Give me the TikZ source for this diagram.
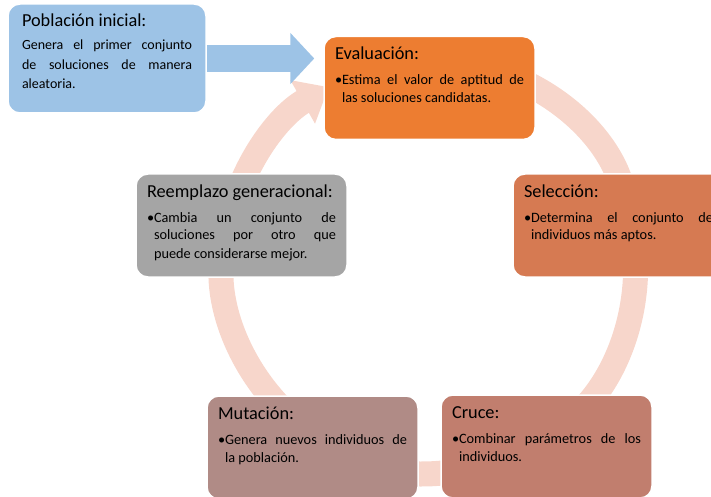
\documentclass[tikz,border=0pt]{standalone}
\usepackage{fontspec}
\setmainfont{Carlito}
\usetikzlibrary{arrows.meta}

\definecolor{popblue}{HTML}{9DC3E6}
\definecolor{evalorange}{HTML}{ED7D31}
\definecolor{selbrown}{HTML}{D67A52}
\definecolor{crucebrown}{HTML}{C17E6E}
\definecolor{mutbrown}{HTML}{B08B86}
\definecolor{reemgray}{HTML}{A5A5A5}
\definecolor{ringpink}{HTML}{F7D6CB}

% title + bulleted text inside a stage box
\newcommand{\stagetext}[2]{%
  \parbox[t][83pt][t]{189pt}{%
    \fontsize{18.3}{22}\selectfont\rule{0pt}{13pt}#1\par
    \vspace{7pt}%
    \fontsize{14.3}{18}\selectfont
    \hangindent=7pt\hangafter=1\noindent\makebox[7pt][l]{\textbullet}#2}}

\tikzset{
  stagebox/.style={draw=white, line width=1.5pt, rounded corners=12pt,
    inner xsep=11pt, inner ysep=10pt, text=black},
  ringarrow/.style={ringpink, line width=25pt, -{Triangle[width=48pt,length=30pt]}},
  poparrow/.style={popblue, line width=27pt, -{Triangle[width=50pt,length=24pt]}, shorten >=9pt}
}

\begin{document}
\begin{tikzpicture}[x=1pt,y=1pt]
\useasboundingbox (0,0) rectangle (711,496);
\clip (0,0) rectangle (711,496);
%
\coordinate (hub) at (430,230);
\draw[ringarrow] (hub) ++(90:205.5) arc[start angle=90, end angle=14, radius=205.5];
\draw[ringarrow] (hub) ++(12:205.5) arc[start angle=12, end angle=-58, radius=205.5];
\draw[ringarrow] (hub) ++(-57:205.5) arc[start angle=-57, end angle=-117, radius=205.5];
\draw[ringarrow] (hub) ++(-123:205.5) arc[start angle=-123, end angle=-192, radius=205.5];
\draw[ringarrow] (hub) ++(168:205.5) arc[start angle=168, end angle=119.5, radius=205.5];
%
\node[stagebox, fill=evalorange] (eval) at (429.5,408) {\stagetext{Evaluación:}{Estima el valor de aptitud de\linebreak las soluciones candidatas.}};
\node[stagebox, fill=selbrown] (sel) at (618.5,270.5) {\stagetext{Selección:}{Determina el conjunto de\linebreak individuos más aptos.}};
\node[stagebox, fill=crucebrown] (cru) at (546.5,49.5) {\stagetext{Cruce:}{Combinar parámetros de los\linebreak individuos.}};
\node[stagebox, fill=mutbrown] (mut) at (312.5,48.5) {\stagetext{Mutación:}{Genera nuevos individuos de\linebreak la población.}};
\node[stagebox, fill=reemgray] (reem) at (241.5,270.5) {\stagetext{Reemplazo generacional:}{Cambia un conjunto de\linebreak soluciones por otro que\linebreak puede considerarse mejor.}};
%
\node[stagebox, fill=popblue, inner xsep=14pt] (pob) at (107,437.5) {\parbox[t][89pt][t]{170pt}{%
  \fontsize{18.3}{22}\selectfont\rule{0pt}{13pt}Población inicial:\par
  \vspace{3.5pt}%
  \fontsize{14}{19.5}\selectfont Genera el primer conjunto\linebreak de soluciones de manera\linebreak aleatoria.}};
\draw[poparrow] (pob.east) -- (pob.east -| eval.west);
\end{tikzpicture}
\end{document}
